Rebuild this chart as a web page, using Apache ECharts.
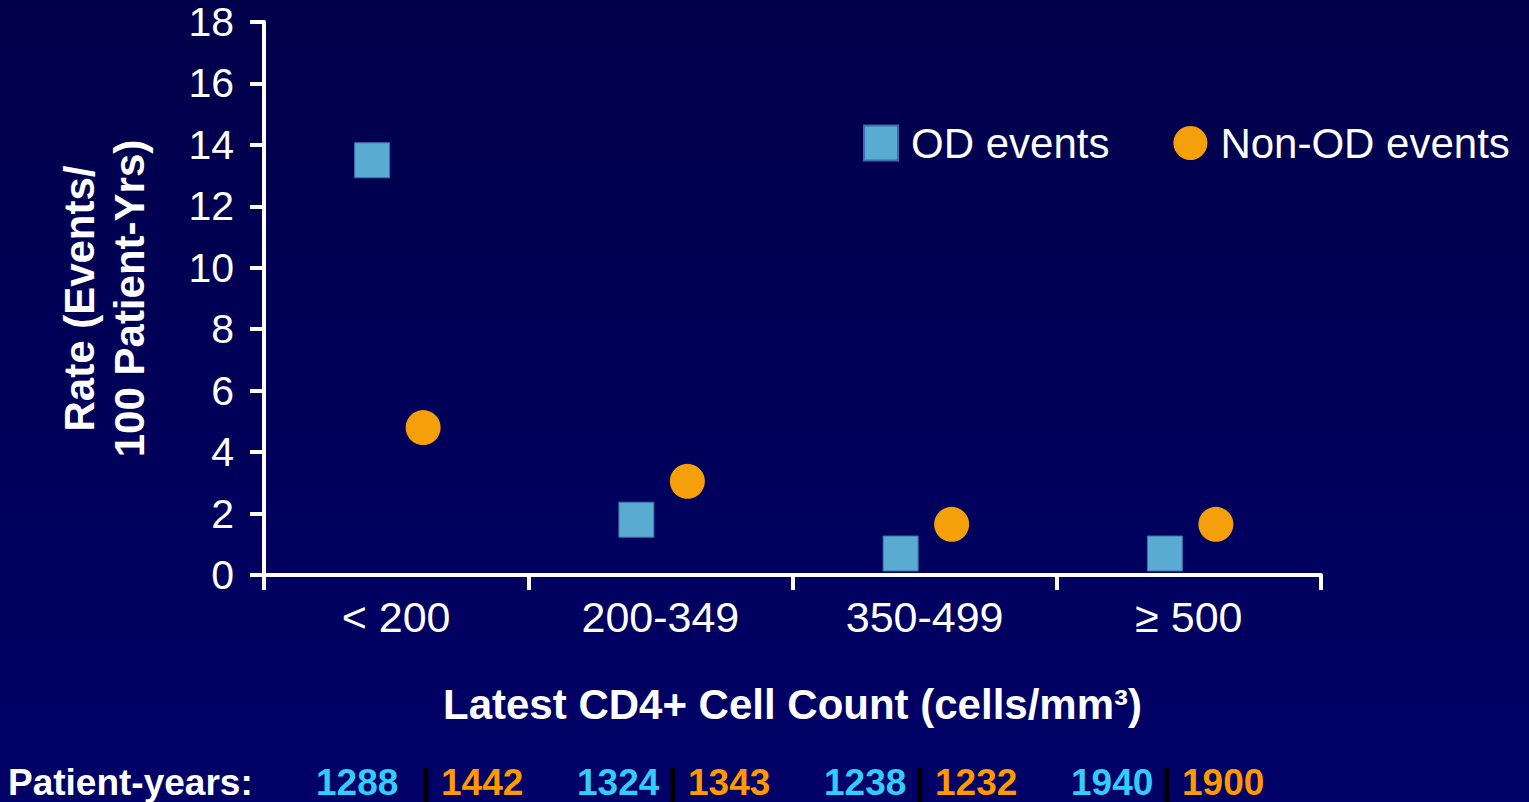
<!DOCTYPE html>
<html>
<head>
<meta charset="utf-8">
<script src="https://cdn.jsdelivr.net/npm/echarts@6/dist/echarts.min.js"></script>
<style>
html,body{margin:0;padding:0;width:1529px;height:802px;overflow:hidden;}
#c{width:1529px;height:802px;}
</style>
</head>
<body>
<div id="c"></div>
<script>
const categories = ['< 200', '200-349', '350-499', '≥ 500'];
const odEvents = [13.5, 1.8, 0.7, 0.7];
const nonOdEvents = [4.8, 3.05, 1.65, 1.65];
const yTicks = {min: 0, max: 18, interval: 2};
const patientYearsOD = ['1288', '1324', '1238', '1940'];
const patientYearsNonOD = ['1442', '1343', '1232', '1900'];

const FONT = '"Liberation Sans", Arial, sans-serif';
const chart = echarts.init(document.getElementById('c'), null, {renderer: 'svg'});

const pyX = [316, 577, 824, 1071];
const graphics = [{
  type: 'text', left: 8, top: 764,
  style: {text: 'Patient-years:', fill: '#ffffff', font: 'bold 37px ' + FONT}
}];
patientYearsOD.forEach((v, i) => {
  graphics.push({type: 'text', left: pyX[i], top: 764,
    style: {text: v, fill: '#33ccff', font: 'bold 37px ' + FONT}});
  graphics.push({type: 'text', left: pyX[i] + (i === 0 ? 105 : 91), top: 764,
    style: {text: '|', fill: '#000000', font: 'bold 37px ' + FONT}});
  graphics.push({type: 'text', left: pyX[i] + (i === 0 ? 125 : 111), top: 764,
    style: {text: patientYearsNonOD[i], fill: '#ff9900', font: 'bold 37px ' + FONT}});
});

chart.setOption({
  backgroundColor: {
    type: 'linear', x: 0, y: 0, x2: 0, y2: 1,
    colorStops: [{offset: 0, color: '#00004a'}, {offset: 1, color: '#000068'}]
  },
  animation: false,
  textStyle: {fontFamily: FONT},
  grid: {left: 264, right: 208, top: 22, bottom: 227, containLabel: false},
  legend: {
    left: 858, top: 117,
    itemWidth: 34, itemHeight: 35, itemGap: 64,
    textStyle: {color: '#ffffff', fontSize: 42, fontFamily: FONT, padding: [0, 0, 0, 8]},
    data: [
      {name: 'OD events', icon: 'rect'},
      {name: 'Non-OD events', icon: 'circle'}
    ]
  },
  xAxis: {
    type: 'category',
    data: categories,
    boundaryGap: true,
    axisLine: {lineStyle: {color: '#ffffff', width: 4}},
    axisTick: {show: true, length: 15, lineStyle: {color: '#ffffff', width: 4}, alignWithLabel: false},
    axisLabel: {color: '#ffffff', fontSize: 43, margin: 20, fontFamily: FONT},
    name: 'Latest CD4+ Cell Count (cells/mm³)',
    nameLocation: 'middle',
    nameGap: 108,
    nameTextStyle: {color: '#ffffff', fontSize: 42, fontWeight: 'bold', fontFamily: FONT},
    splitLine: {show: false}
  },
  yAxis: {
    type: 'value',
    min: yTicks.min, max: yTicks.max, interval: yTicks.interval,
    axisLine: {show: true, lineStyle: {color: '#ffffff', width: 4}},
    axisTick: {show: true, length: 14, lineStyle: {color: '#ffffff', width: 4}},
    axisLabel: {color: '#ffffff', fontSize: 41, margin: 30, fontFamily: FONT},
    splitLine: {show: false},
    name: 'Rate (Events/\n100 Patient-Yrs)',
    nameLocation: 'middle',
    nameRotate: 90,
    nameGap: 110,
    nameTextStyle: {color: '#ffffff', fontSize: 42, fontWeight: 'bold', fontFamily: FONT, lineHeight: 50}
  },
  series: [
    {
      name: 'OD events', type: 'scatter', symbol: 'rect', symbolSize: 35,
      symbolOffset: [-24, 0],
      itemStyle: {color: '#5aabd2', borderColor: '#3a6ea8', borderWidth: 1, opacity: 1},
      data: odEvents
    },
    {
      name: 'Non-OD events', type: 'scatter', symbol: 'circle', symbolSize: 35,
      symbolOffset: [27, 0],
      itemStyle: {color: '#f5a00a', opacity: 1},
      data: nonOdEvents
    }
  ],
  graphic: graphics
});
</script>
</body>
</html>
